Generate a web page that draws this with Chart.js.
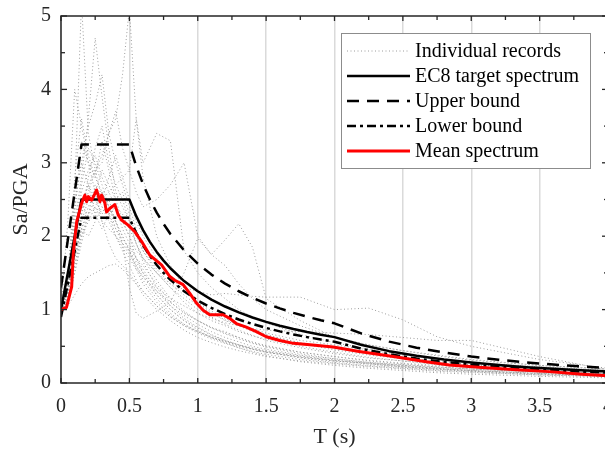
<!DOCTYPE html>
<html><head><meta charset="utf-8">
<script src="https://cdn.jsdelivr.net/npm/chart.js@4"></script>
<style>
html,body{margin:0;padding:0;overflow:hidden;background:#fff;width:605px;height:450px}
#wrap{position:absolute;left:0;top:0;width:615px;height:450px}
</style>
</head><body>
<div id="wrap"><canvas id="c" width="615" height="450"></canvas></div>
<script>
// ---- data ----
const periods = [0, 0.05, 0.1, 0.15, 0.2, 0.25, 0.3, 0.35, 0.4, 0.45, 0.5, 0.55, 0.6, 0.7, 0.8, 0.9, 1.0, 1.1, 1.2, 1.3, 1.4, 1.5, 1.75, 2.0, 2.25, 2.5, 2.75, 3.0, 3.5, 4.0];
const rec01 = [1.00,1.40,2.60,5.20,3.40,2.90,2.50,2.30,2.40,2.10,1.90,1.70,1.60,1.35,1.10,0.95,0.85,0.75,0.70,0.62,0.55,0.50,0.42,0.36,0.30,0.26,0.22,0.19,0.15,0.12];
const rec02 = [1.00,1.30,2.20,2.80,3.60,4.70,3.90,3.20,2.60,2.40,2.20,1.90,1.70,1.50,1.30,1.10,0.95,0.85,0.78,0.70,0.64,0.60,0.50,0.42,0.35,0.30,0.25,0.21,0.16,0.13];
const rec03 = [1.00,2.20,4.00,3.50,3.00,2.80,3.30,2.90,2.50,2.20,2.00,1.70,1.50,1.20,1.00,0.85,0.75,0.65,0.58,0.52,0.46,0.42,0.35,0.30,0.26,0.22,0.19,0.17,0.13,0.10];
const rec04 = [1.00,1.20,1.80,2.30,2.60,2.90,3.00,3.40,3.60,4.20,5.10,3.60,2.80,2.00,1.60,1.30,1.10,0.95,0.85,0.78,0.70,0.65,0.55,0.47,0.40,0.35,0.30,0.25,0.20,0.16];
const rec05 = [1.00,1.30,2.40,3.00,3.50,3.80,4.20,3.40,3.00,2.70,2.40,2.10,1.80,1.50,1.30,1.15,1.00,0.90,0.80,0.72,0.65,0.58,0.48,0.40,0.34,0.30,0.26,0.22,0.17,0.13];
const rec06 = [1.00,1.20,1.90,2.40,2.70,2.90,3.10,3.40,3.70,3.20,2.90,3.60,3.00,3.40,3.30,1.80,1.50,1.30,1.15,1.00,0.90,0.82,0.66,0.55,0.46,0.40,0.34,0.28,0.22,0.17];
const rec07 = [1.00,1.10,1.60,2.00,2.20,2.30,2.50,2.60,2.70,2.80,2.90,2.60,2.40,2.50,2.70,3.00,2.00,1.75,1.60,1.35,1.15,1.00,0.78,0.62,0.52,0.44,0.38,0.32,0.24,0.19];
const rec08 = [1.00,1.10,1.50,2.00,2.30,2.50,2.60,2.40,2.20,1.90,1.30,0.95,0.88,0.98,1.10,1.50,1.97,1.75,1.95,2.17,1.85,1.15,0.85,0.62,0.52,0.44,0.37,0.31,0.24,0.19];
const rec09 = [1.00,1.05,1.20,1.35,1.45,1.50,1.55,1.60,1.62,1.55,1.45,1.35,1.25,1.05,0.90,0.78,0.68,0.60,0.54,0.48,0.43,0.39,0.32,0.27,0.23,0.20,0.17,0.15,0.11,0.09];
const rec10 = [1.00,1.30,2.00,2.60,2.90,3.10,2.80,2.60,2.40,2.30,2.10,1.90,1.70,1.40,1.15,0.98,0.85,0.75,0.67,0.60,0.54,0.49,0.40,0.33,0.28,0.24,0.20,0.17,0.13,0.10];
const rec11 = [1.00,1.20,1.80,2.20,2.50,2.60,2.40,2.30,2.40,2.20,2.00,1.80,1.70,1.50,1.35,1.30,1.25,1.20,1.22,1.20,1.18,1.17,1.17,1.00,1.02,0.86,0.63,0.50,0.32,0.20];
const rec12 = [1.00,1.15,1.70,2.10,2.30,2.40,2.20,2.10,2.00,1.90,1.80,1.65,1.50,1.30,1.15,1.05,0.95,0.88,0.82,0.78,0.74,0.72,0.70,0.68,0.66,0.62,0.58,0.58,0.36,0.18];
const rec13 = [1.00,1.20,1.90,2.40,2.70,2.50,2.30,2.50,2.20,2.00,1.80,1.60,1.40,1.15,0.95,0.80,0.70,0.62,0.55,0.50,0.46,0.42,0.35,0.30,0.27,0.24,0.21,0.19,0.15,0.12];
const rec14 = [1.00,1.25,2.10,2.70,3.20,3.00,2.70,2.40,2.10,1.90,1.75,1.60,1.45,1.20,1.00,0.85,0.72,0.62,0.55,0.48,0.42,0.37,0.29,0.24,0.20,0.17,0.14,0.12,0.09,0.07];
const rec15 = [1.00,1.10,1.60,2.10,2.40,2.60,2.90,2.70,2.50,2.60,2.30,2.00,1.80,1.55,1.35,1.20,1.05,0.95,0.86,0.80,0.74,0.68,0.58,0.52,0.45,0.38,0.33,0.28,0.22,0.17];
const rec16 = [1.00,1.30,2.30,3.30,3.00,2.60,2.20,1.90,1.70,1.60,1.50,1.35,1.20,1.00,0.85,0.72,0.62,0.55,0.49,0.44,0.40,0.36,0.30,0.26,0.22,0.19,0.16,0.14,0.11,0.08];
const rec17 = [1.00,1.15,1.70,2.30,2.80,3.20,3.50,3.00,2.70,2.50,2.20,1.90,1.65,1.30,1.05,0.88,0.76,0.66,0.58,0.52,0.47,0.43,0.36,0.31,0.27,0.23,0.20,0.17,0.13,0.10];
const rec18 = [1.00,1.25,1.90,2.50,2.20,2.40,2.60,2.30,2.10,1.95,1.85,1.70,1.55,1.25,1.05,0.92,0.80,0.70,0.62,0.56,0.50,0.46,0.38,0.33,0.28,0.25,0.22,0.19,0.15,0.12];
const rec19 = [1.00,1.35,2.50,3.00,2.70,2.30,2.10,2.30,2.00,1.80,1.60,1.40,1.25,1.05,0.90,0.78,0.70,0.62,0.57,0.52,0.48,0.44,0.37,0.31,0.26,0.22,0.19,0.16,0.12,0.09];
const rec20 = [1.00,1.10,1.50,1.90,2.30,2.70,2.50,2.80,3.10,2.80,2.50,2.20,2.00,1.70,1.45,1.25,1.10,0.98,0.88,0.80,0.73,0.66,0.54,0.45,0.38,0.33,0.29,0.25,0.19,0.15];
const rec21 = [1.00,1.20,1.70,2.10,2.00,2.20,2.40,2.20,2.00,1.85,1.70,1.55,1.45,1.25,1.10,0.96,0.85,0.76,0.68,0.62,0.56,0.51,0.42,0.36,0.31,0.27,0.24,0.21,0.16,0.13];
const rec22 = [1.00,1.40,2.80,3.60,3.10,2.80,2.60,2.40,2.20,2.00,1.80,1.55,1.35,1.10,0.92,0.80,0.70,0.63,0.57,0.51,0.46,0.42,0.34,0.28,0.24,0.21,0.18,0.16,0.12,0.10];

const targetPeriods = [0, 0.15, 0.5, 0.55, 0.6, 0.65, 0.7, 0.75, 0.8, 0.9, 1.0, 1.1, 1.2, 1.3, 1.4, 1.5, 1.6, 1.7, 1.8, 1.9, 2.0, 2.2, 2.4, 2.6, 2.8, 3.0, 3.2, 3.4, 3.6, 3.8, 4.0];
const ec8Target  = [1.00, 2.50, 2.50, 2.273, 2.083, 1.923, 1.786, 1.667, 1.563, 1.389, 1.25, 1.136, 1.042, 0.962, 0.893, 0.833, 0.781, 0.735, 0.694, 0.658, 0.625, 0.517, 0.434, 0.370, 0.319, 0.278, 0.244, 0.216, 0.193, 0.173, 0.156];
const upperBound = [1.30, 3.25, 3.25, 2.955, 2.708, 2.50, 2.321, 2.167, 2.031, 1.806, 1.625, 1.477, 1.354, 1.25, 1.161, 1.083, 1.016, 0.956, 0.903, 0.855, 0.813, 0.672, 0.564, 0.481, 0.415, 0.361, 0.317, 0.281, 0.251, 0.225, 0.203];
const lowerBound = [0.90, 2.25, 2.25, 2.045, 1.875, 1.731, 1.607, 1.50, 1.406, 1.25, 1.125, 1.023, 0.938, 0.865, 0.804, 0.75, 0.703, 0.662, 0.625, 0.592, 0.563, 0.465, 0.391, 0.333, 0.287, 0.25, 0.22, 0.195, 0.174, 0.156, 0.141];

const meanPeriods  = [0, 0.04, 0.078, 0.09, 0.115, 0.151, 0.163, 0.175, 0.187, 0.2, 0.224, 0.248, 0.26, 0.272, 0.285, 0.297, 0.321, 0.333, 0.358, 0.394, 0.418, 0.443, 0.491, 0.54, 0.589, 0.65, 0.735, 0.796, 0.832, 0.893, 0.942, 0.99, 1.039, 1.088, 1.136, 1.185, 1.234, 1.282, 1.355, 1.428, 1.501, 1.6, 1.7, 1.82, 1.99, 2.18, 2.43, 2.67, 2.84, 3.08, 3.33, 3.57, 3.81, 4.0];
const meanSpectrum = [1.00, 1.03, 1.31, 1.77, 2.20, 2.45, 2.51, 2.56, 2.47, 2.54, 2.49, 2.58, 2.63, 2.56, 2.47, 2.56, 2.45, 2.33, 2.38, 2.43, 2.29, 2.22, 2.15, 2.06, 1.93, 1.74, 1.61, 1.45, 1.40, 1.34, 1.22, 1.09, 0.99, 0.93, 0.93, 0.93, 0.88, 0.81, 0.76, 0.70, 0.63, 0.58, 0.54, 0.52, 0.49, 0.43, 0.36, 0.29, 0.245, 0.21, 0.18, 0.155, 0.12, 0.10];

const xTicks = [0, 0.5, 1, 1.5, 2, 2.5, 3, 3.5, 4];
const xMinorTicks = [0.25, 0.75, 1.25, 1.75, 2.25, 2.75, 3.25, 3.75];
const yTicks = [0, 1, 2, 3, 4, 5];
const yMinorTicks = [0.5, 1.5, 2.5, 3.5, 4.5];
const legendLabels = ['Individual records', 'EC8 target spectrum', 'Upper bound', 'Lower bound', 'Mean spectrum'];

// ---- build ----
const records = [rec01, rec02, rec03, rec04, rec05, rec06, rec07, rec08, rec09, rec10, rec11, rec12, rec13, rec14, rec15, rec16, rec17, rec18, rec19, rec20, rec21, rec22];
const pts = (xs, ys) => xs.map((x, i) => ({x: x, y: ys[i]}));
const SERIF = '"Liberation Serif", "Times New Roman", serif';
const AX = '#262626';

const datasets = [
  {label: 'Mean spectrum', data: pts(meanPeriods, meanSpectrum), borderColor: '#ff0000', borderWidth: 3},
  {label: 'EC8 target spectrum', data: pts(targetPeriods, ec8Target), borderColor: '#000', borderWidth: 2.5},
  {label: 'Upper bound', data: pts(targetPeriods, upperBound), borderColor: '#000', borderWidth: 2.5, borderDash: [12, 8]},
  {label: 'Lower bound', data: pts(targetPeriods, lowerBound), borderColor: '#000', borderWidth: 2.5, borderDash: [9, 4, 3, 4]}
];
records.forEach((r, i) => datasets.push({
  label: i === 0 ? 'Individual records' : 'rec' + (i + 1),
  data: pts(periods, r), borderColor: '#9c9c9c', borderWidth: 1, borderDash: [1, 2.5]
}));
datasets.forEach(d => { d.pointRadius = 0; d.tension = 0; d.fill = false; d.borderCapStyle = 'butt'; d.borderJoinStyle = 'round'; });

const axesPlugin = {
  id: 'axesBox',
  afterDatasetsDraw(chart) {
    const {ctx, chartArea: a, scales: {x, y}} = chart;
    ctx.save();
    ctx.strokeStyle = AX; ctx.lineWidth = 1.5; ctx.setLineDash([]);
    ctx.strokeRect(a.left, a.top, a.right - a.left, a.bottom - a.top);
    const seg = (x1, y1, x2, y2) => { ctx.beginPath(); ctx.moveTo(x1, y1); ctx.lineTo(x2, y2); ctx.stroke(); };
    ctx.lineWidth = 1.3;
    const xt = (arr, len) => arr.forEach(v => { const p = x.getPixelForValue(v); seg(p, a.bottom, p, a.bottom - len); seg(p, a.top, p, a.top + len); });
    const yt = (arr, len) => arr.forEach(v => { const p = y.getPixelForValue(v); seg(a.left, p, a.left + len, p); seg(a.right, p, a.right - len, p); });
    xt(xTicks, 5); xt(xMinorTicks, 4);
    yt(yTicks, 6); yt(yMinorTicks, 4);
    ctx.restore();
  }
};

const legendPlugin = {
  id: 'boxLegend',
  afterDraw(chart) {
    const {ctx} = chart;
    const bx = 341.5, by = 33.5, bw = 249, bh = 135;
    ctx.save();
    ctx.fillStyle = '#fff'; ctx.fillRect(bx, by, bw, bh);
    ctx.strokeStyle = '#8c8c8c'; ctx.lineWidth = 1; ctx.setLineDash([]);
    ctx.strokeRect(bx, by, bw, bh);
    legendLabels.forEach((lab, i) => {
      const ds = chart.data.datasets.find(d => d.label === lab);
      const yy = 51 + i * 25;
      ctx.strokeStyle = ds.borderColor; ctx.lineWidth = ds.borderWidth;
      ctx.setLineDash(ds.borderDash || []); ctx.lineCap = 'butt';
      ctx.beginPath(); ctx.moveTo(347, yy); ctx.lineTo(410, yy); ctx.stroke();
      ctx.setLineDash([]);
      ctx.fillStyle = '#000'; ctx.font = '20px ' + SERIF;
      ctx.textAlign = 'left'; ctx.textBaseline = 'middle';
      ctx.fillText(lab, 415, yy + 1);
    });
    ctx.restore();
  }
};

new Chart(document.getElementById('c'), {
  type: 'line',
  data: {datasets: datasets},
  plugins: [axesPlugin, legendPlugin],
  options: {
    responsive: false, animation: false, events: [],
    devicePixelRatio: 1,
    layout: {padding: {top: 16, right: 7, left: 0, bottom: 0}},
    plugins: {legend: {display: false}, tooltip: {enabled: false}},
    scales: {
      x: {
        type: 'linear', min: 0, max: 4,
        afterBuildTicks: s => { s.ticks = xTicks.map(v => ({value: v})); },
        afterFit: s => { s.height = 67; s.paddingLeft = 0; s.paddingRight = 0; },
        ticks: {font: {family: SERIF, size: 20}, color: AX, padding: 12, maxRotation: 0, autoSkip: false, callback: v => String(v)},
        grid: {color: '#dadada', lineWidth: 1.5, drawTicks: false},
        border: {display: false},
        title: {display: true, text: 'T (s)', font: {family: SERIF, size: 22}, color: AX, padding: {top: 0, bottom: 0}}
      },
      y: {
        type: 'linear', min: 0, max: 5,
        afterBuildTicks: s => { s.ticks = yTicks.map(v => ({value: v})); },
        afterFit: s => { s.width = 61; s.paddingTop = 0; s.paddingBottom = 0; },
        ticks: {font: {family: SERIF, size: 20}, color: AX, padding: 10, callback: v => String(v)},
        grid: {display: false, drawTicks: false},
        border: {display: false},
        title: {display: true, text: 'Sa/PGA', font: {family: SERIF, size: 22}, color: AX, padding: {top: 8, bottom: 0}}
      }
    }
  }
});
</script>
</body></html>
